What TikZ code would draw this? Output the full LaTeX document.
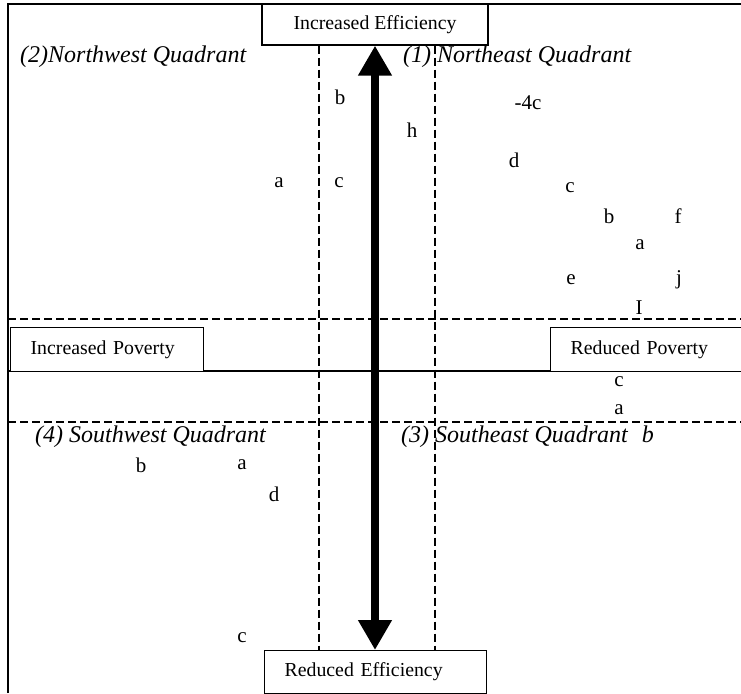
\documentclass[tikz,border=0pt]{standalone}
\usepackage{fontspec}
\setmainfont{Liberation Serif}
\usetikzlibrary{arrows.meta}
\begin{document}
\begin{tikzpicture}[x=1pt,y=-1pt,
  box/.style={draw, line width=1.3pt, inner ysep=0pt, font=\fontsize{19.8}{24}\selectfont},
  lbl/.style={font=\fontsize{21}{25}\selectfont, inner sep=0pt},
  quad/.style={font=\fontsize{24}{28}\selectfont\itshape, inner sep=0pt, anchor=west},
  frameline/.style={line width=1.5pt},
  dashline/.style={dash pattern=on 8pt off 4pt, line width=1.1pt},
  bigarrow/.style={line width=8pt, {Triangle[width=32pt,length=30pt]}-{Triangle[width=32pt,length=30pt]}}
]
\useasboundingbox (0,0) rectangle (741,693);
% frame and plane lines
\draw[frameline] (8,693) -- (8,4) -- (745,4);
\draw[frameline] (8,371) -- (745,371);
\draw[dashline] (8,319) -- (745,319);
\draw[dashline] (8,422) -- (745,422);
% boxes
\node[box, minimum width=226pt, minimum height=41pt, fill=white] (ie) at (375,24.5) {Increased Efficiency};
\node[box, anchor=north west, inner xsep=20pt, text width=182pt, align=left, minimum height=43pt, fill=white] (re) at (264,650) {Reduced Efficiency};
\node[box, anchor=north west, inner xsep=20pt, text width=153pt, align=left, minimum height=44pt, fill=white] (ip) at (10,327) {Increased Poverty};
\node[box, anchor=north west, inner xsep=20pt, text width=175pt, align=left, minimum height=44pt, fill=white] (rp) at (550,327) {Reduced Poverty};
% dashed verticals and main arrow
\coordinate (dl) at (319,0);
\coordinate (dr) at (435,0);
\draw[dashline] (ie.south -| dl) -- (re.north -| dl);
\draw[dashline] (ie.south -| dr) -- (re.north -| dr);
\draw[bigarrow] (ie.south) -- (ie.south |- re.north);
% quadrant labels
\node[quad] (q2) at (20,57) {(2)Northwest Quadrant};
\node[quad] (q1) at (403,57) {(1) Northeast Quadrant};
\node[quad] (q4) at (35,437) {(4) Southwest Quadrant};
\node[quad] (q3) at (401,437) {(3) Southeast Quadrant\hspace{14pt}b};
% letters, northwest
\node[lbl] (nwb) at (340,97) {b};
\node[lbl] (nwa) at (279,183) {a};
\node[lbl] (nwc) at (339,183) {c};
\node[lbl] (nh) at (412,130) {h};
% letters, northeast
\node[lbl] (ne4c) at (528,103) {-4c};
\node[lbl] (ned) at (514,160) {d};
\node[lbl] (nec) at (570,188) {c};
\node[lbl] (neb) at (609,216) {b};
\node[lbl] (nef) at (678,216) {f};
\node[lbl] (nea) at (640,245) {a};
\node[lbl] (nee) at (571,280) {e};
\node[lbl] (nej) at (679,280) {j};
\node[lbl] (neI) at (639,308) {I};
% letters, middle right
\node[lbl] (mc) at (619,382) {c};
\node[lbl] (ma) at (619,410) {a};
% letters, southwest
\node[lbl] (swb) at (141,465) {b};
\node[lbl] (swa) at (242,465) {a};
\node[lbl] (swd) at (274,494) {d};
\node[lbl] (swc) at (242,638) {c};
\end{tikzpicture}
\end{document}
